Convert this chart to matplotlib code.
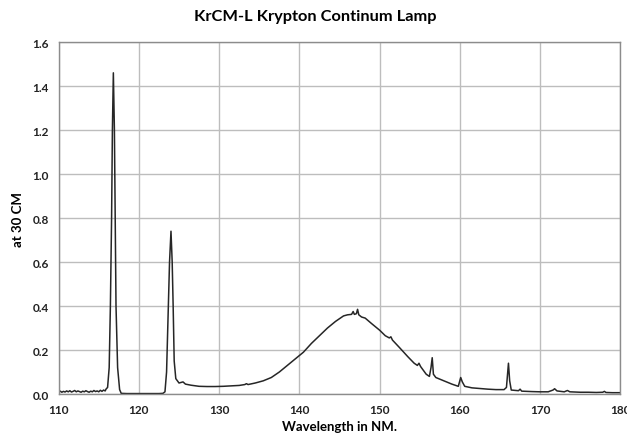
import matplotlib
matplotlib.use("Agg")
import matplotlib.pyplot as plt

plt.rcParams['font.family'] = ['Lato', 'DejaVu Sans']

title = "KrCM-L Krypton Continum Lamp"
x_label = "Wavelength in NM."
y_label = "at 30 CM"
x_ticks = [110, 120, 130, 140, 150, 160, 170, 180]
y_ticks = [0.0, 0.2, 0.4, 0.6, 0.8, 1.0, 1.2, 1.4, 1.6]

wavelength = [
    110.0, 110.2, 110.4, 110.6, 110.8, 111.0, 111.2, 111.4, 111.6, 111.8,
    112.0, 112.2, 112.4, 112.6, 112.8, 113.0, 113.2, 113.4, 113.6, 113.8,
    114.0, 114.2, 114.4, 114.6, 114.8, 115.0, 115.2, 115.4, 115.6, 115.8,
    115.9, 116.1, 116.3, 116.45, 116.6, 116.7, 116.82, 116.95, 117.05, 117.15,
    117.35, 117.6, 117.8, 118.5, 119.5, 120.5, 121.5, 122.5, 123.0, 123.25,
    123.45, 123.67, 123.82, 124.0, 124.15, 124.27, 124.4, 124.6, 125.0, 125.5,
    125.8, 126.5, 127.5, 128.5, 129.5, 130.5, 131.5, 132.5, 133.2, 133.4,
    133.6, 134.5, 135.5, 136.5, 137.5, 138.5, 139.5, 140.5, 141.5, 142.5,
    143.5, 144.5, 145.5, 146.0, 146.5, 146.7, 146.85, 147.1, 147.25, 147.4,
    147.75, 148.2, 149.0, 150.0, 150.7, 151.2, 151.4, 151.6, 152.5, 153.5,
    154.3, 154.7, 154.9, 155.1, 155.8, 156.2, 156.4, 156.55, 156.7, 157.0,
    158.0, 159.0, 159.8, 160.1, 160.3, 160.6, 161.5, 162.5, 163.5, 164.5,
    165.5, 165.8, 166.05, 166.2, 166.4, 167.3, 167.5, 167.7, 169.0, 170.0,
    171.0, 171.6, 171.8, 172.1, 173.0, 173.4, 173.7, 175.0, 176.0, 177.0,
    177.8, 178.0, 178.2, 179.0, 180.0,
]
intensity = [
    0.010, 0.013, 0.008, 0.012, 0.009, 0.014, 0.010, 0.015, 0.009, 0.012,
    0.016, 0.010, 0.014, 0.011, 0.008, 0.013, 0.010, 0.015, 0.011, 0.008,
    0.013, 0.010, 0.016, 0.011, 0.014, 0.010, 0.017, 0.012, 0.018, 0.014,
    0.022, 0.030, 0.12, 0.40, 0.80, 1.20, 1.46, 1.20, 0.80, 0.40,
    0.12, 0.02, 0.003, 0.002, 0.002, 0.002, 0.002, 0.002, 0.003, 0.01,
    0.10, 0.40, 0.60, 0.74, 0.60, 0.40, 0.15, 0.07, 0.05, 0.055,
    0.045, 0.040, 0.035, 0.034, 0.034, 0.035, 0.037, 0.039, 0.043, 0.047,
    0.043, 0.050, 0.060, 0.075, 0.10, 0.13, 0.16, 0.19, 0.23, 0.265,
    0.30, 0.33, 0.355, 0.36, 0.362, 0.375, 0.362, 0.365, 0.385, 0.36,
    0.35, 0.345, 0.32, 0.29, 0.265, 0.255, 0.26, 0.245, 0.21, 0.17,
    0.14, 0.13, 0.14, 0.125, 0.09, 0.08, 0.12, 0.165, 0.09, 0.075,
    0.06, 0.045, 0.035, 0.075, 0.055, 0.035, 0.028, 0.025, 0.022, 0.020,
    0.020, 0.030, 0.14, 0.06, 0.018, 0.015, 0.022, 0.013, 0.011, 0.010,
    0.010, 0.018, 0.024, 0.014, 0.010, 0.016, 0.010, 0.008, 0.008, 0.007,
    0.008, 0.012, 0.007, 0.006, 0.006,
]

fig = plt.figure(figsize=(6.27, 4.39), dpi=100)
ax = fig.add_axes([0.0935, 0.1002, 0.896, 0.8018])

ax.plot(wavelength, intensity, color="#262626", linewidth=1.1)
ax.set_xlim(110, 180)
ax.set_ylim(0, 1.6)
ax.set_xticks(x_ticks)
ax.set_yticks(y_ticks)
ax.set_xticklabels([str(t) for t in x_ticks], fontweight="bold", fontsize=8.5)
ax.set_yticklabels([f"{t:.1f}" for t in y_ticks], fontweight="bold", fontsize=8.5)
ax.tick_params(length=0, pad=7, colors="#222222")
ax.grid(True, color="#bdbdbd", linewidth=1.0)
ax.set_axisbelow(True)
for s in ax.spines.values():
    s.set_color("#8c8c8c")
    s.set_linewidth(1.0)

ax.set_xlabel(x_label, fontweight="bold", fontsize=9.5, labelpad=4)
ax.set_ylabel(y_label, fontweight="bold", fontsize=9.5, labelpad=6)
fig.text(0.502, 0.962, title, fontweight="bold", fontsize=11.8, ha="center", va="center")

fig.savefig("out.png", dpi=100)
